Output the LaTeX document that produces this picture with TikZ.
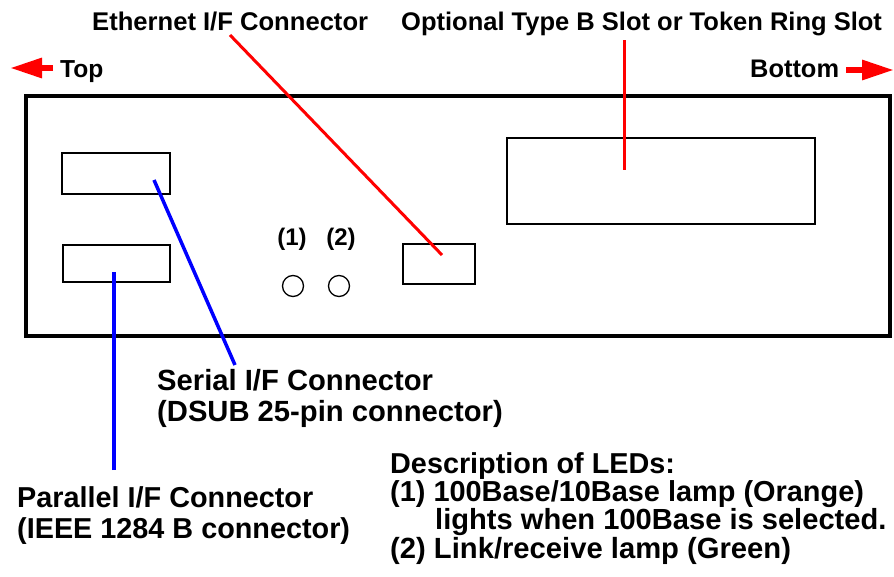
\documentclass[tikz,border=0pt]{standalone}
\usepackage{fontspec}
\setmainfont{Liberation Sans}
\usetikzlibrary{arrows.meta}
\begin{document}
\begin{tikzpicture}[x=1pt,y=-1pt,
  lbl/.style={anchor=base west,inner sep=0pt,font=\bfseries\fontsize{#1}{#1}\selectfont},
  lbl/.default=25,
  part/.style={draw,line width=2.3pt,minimum width=#1,inner sep=0pt},
  redline/.style={draw=red,line width=3pt},
  blueline/.style={draw=blue,line width=3.5pt},
  dirarrow/.style={red,line width=6pt,-{Triangle[length=32pt,width=19pt]}},
  led/.style={draw,circle,line width=1.3pt,minimum size=21pt,inner sep=0pt}]
\useasboundingbox (0,0) rectangle (894,576);
% case
\node (case) [draw,line width=4pt,minimum width=864pt,minimum height=240pt,inner sep=0pt] at (458,216) {};
% parts
\node (serial) [part=108pt,minimum height=41pt] at (116,173.5) {};
\node (parallel) [part=107pt,minimum height=37pt] at (116.5,263.5) {};
\node (ether) [part=72pt,minimum height=40pt] at (439,264) {};
\node (slot) [part=308pt,minimum height=86pt] at (661,181) {};
\node (led1) [led] at (293,286) {};
\node (led2) [led] at (339,286) {};
\node (l1) [lbl=24,anchor=base] at (292,245) {(1)};
\node (l2) [lbl=24,anchor=base] at (341,245) {(2)};
% labels
\node (ethlbl) [lbl=25.6] at (92,30) {Ethernet I/F Connector};
\node (slotlbl) [lbl=25.5] at (401,30) {Optional Type B Slot or Token Ring Slot};
\node (top) [lbl=24.6] at (60,77) {Top};
\node (bottom) [lbl=25.4] at (750,77) {Bottom};
\node (serlbl) [lbl=29.2] at (157,390) {Serial I/F Connector};
\node (serlbl2) [lbl=29.2] at (157,421) {(DSUB 25-pin connector)};
\node (parlbl) [lbl=28.8] at (17,507) {Parallel I/F Connector};
\node (parlbl2) [lbl=28.8] at (17,538) {(IEEE 1284 B connector)};
\node (desc) [lbl=28.8] at (390,473) {Description of LEDs:};
\node (desc1) [lbl=28.9] at (390,501) {(1) 100Base/10Base lamp (Orange)};
\node (desc2) [lbl=29.1] at (435,529) {lights when 100Base is selected.};
\node (desc3) [lbl=29.2] at (390,558) {(2) Link/receive lamp (Green)};
% connector points
\coordinate (ethA) at (230,35);
\coordinate (ethB) at (442,255);
\coordinate (slotA) at (624,40);
\coordinate (slotB) at (624,170);
\coordinate (serA) at (235,365);
\coordinate (serB) at (154,180);
\coordinate (parA) at (114,470);
\coordinate (parB) at (114,272);
\draw[redline] (ethA) -- (ethB);
\draw[redline] (slotA) -- (slotB);
\draw[blueline] (serA) -- (serB);
\draw[blueline] (parA) -- (parB);
% direction arrows
\coordinate (topA) at (53,68);
\coordinate (topB) at (10,68);
\coordinate (botA) at (846,70);
\coordinate (botB) at (894,70);
\draw[dirarrow] (topA) -- (topB);
\draw[dirarrow] (botA) -- (botB);
\end{tikzpicture}
\end{document}
